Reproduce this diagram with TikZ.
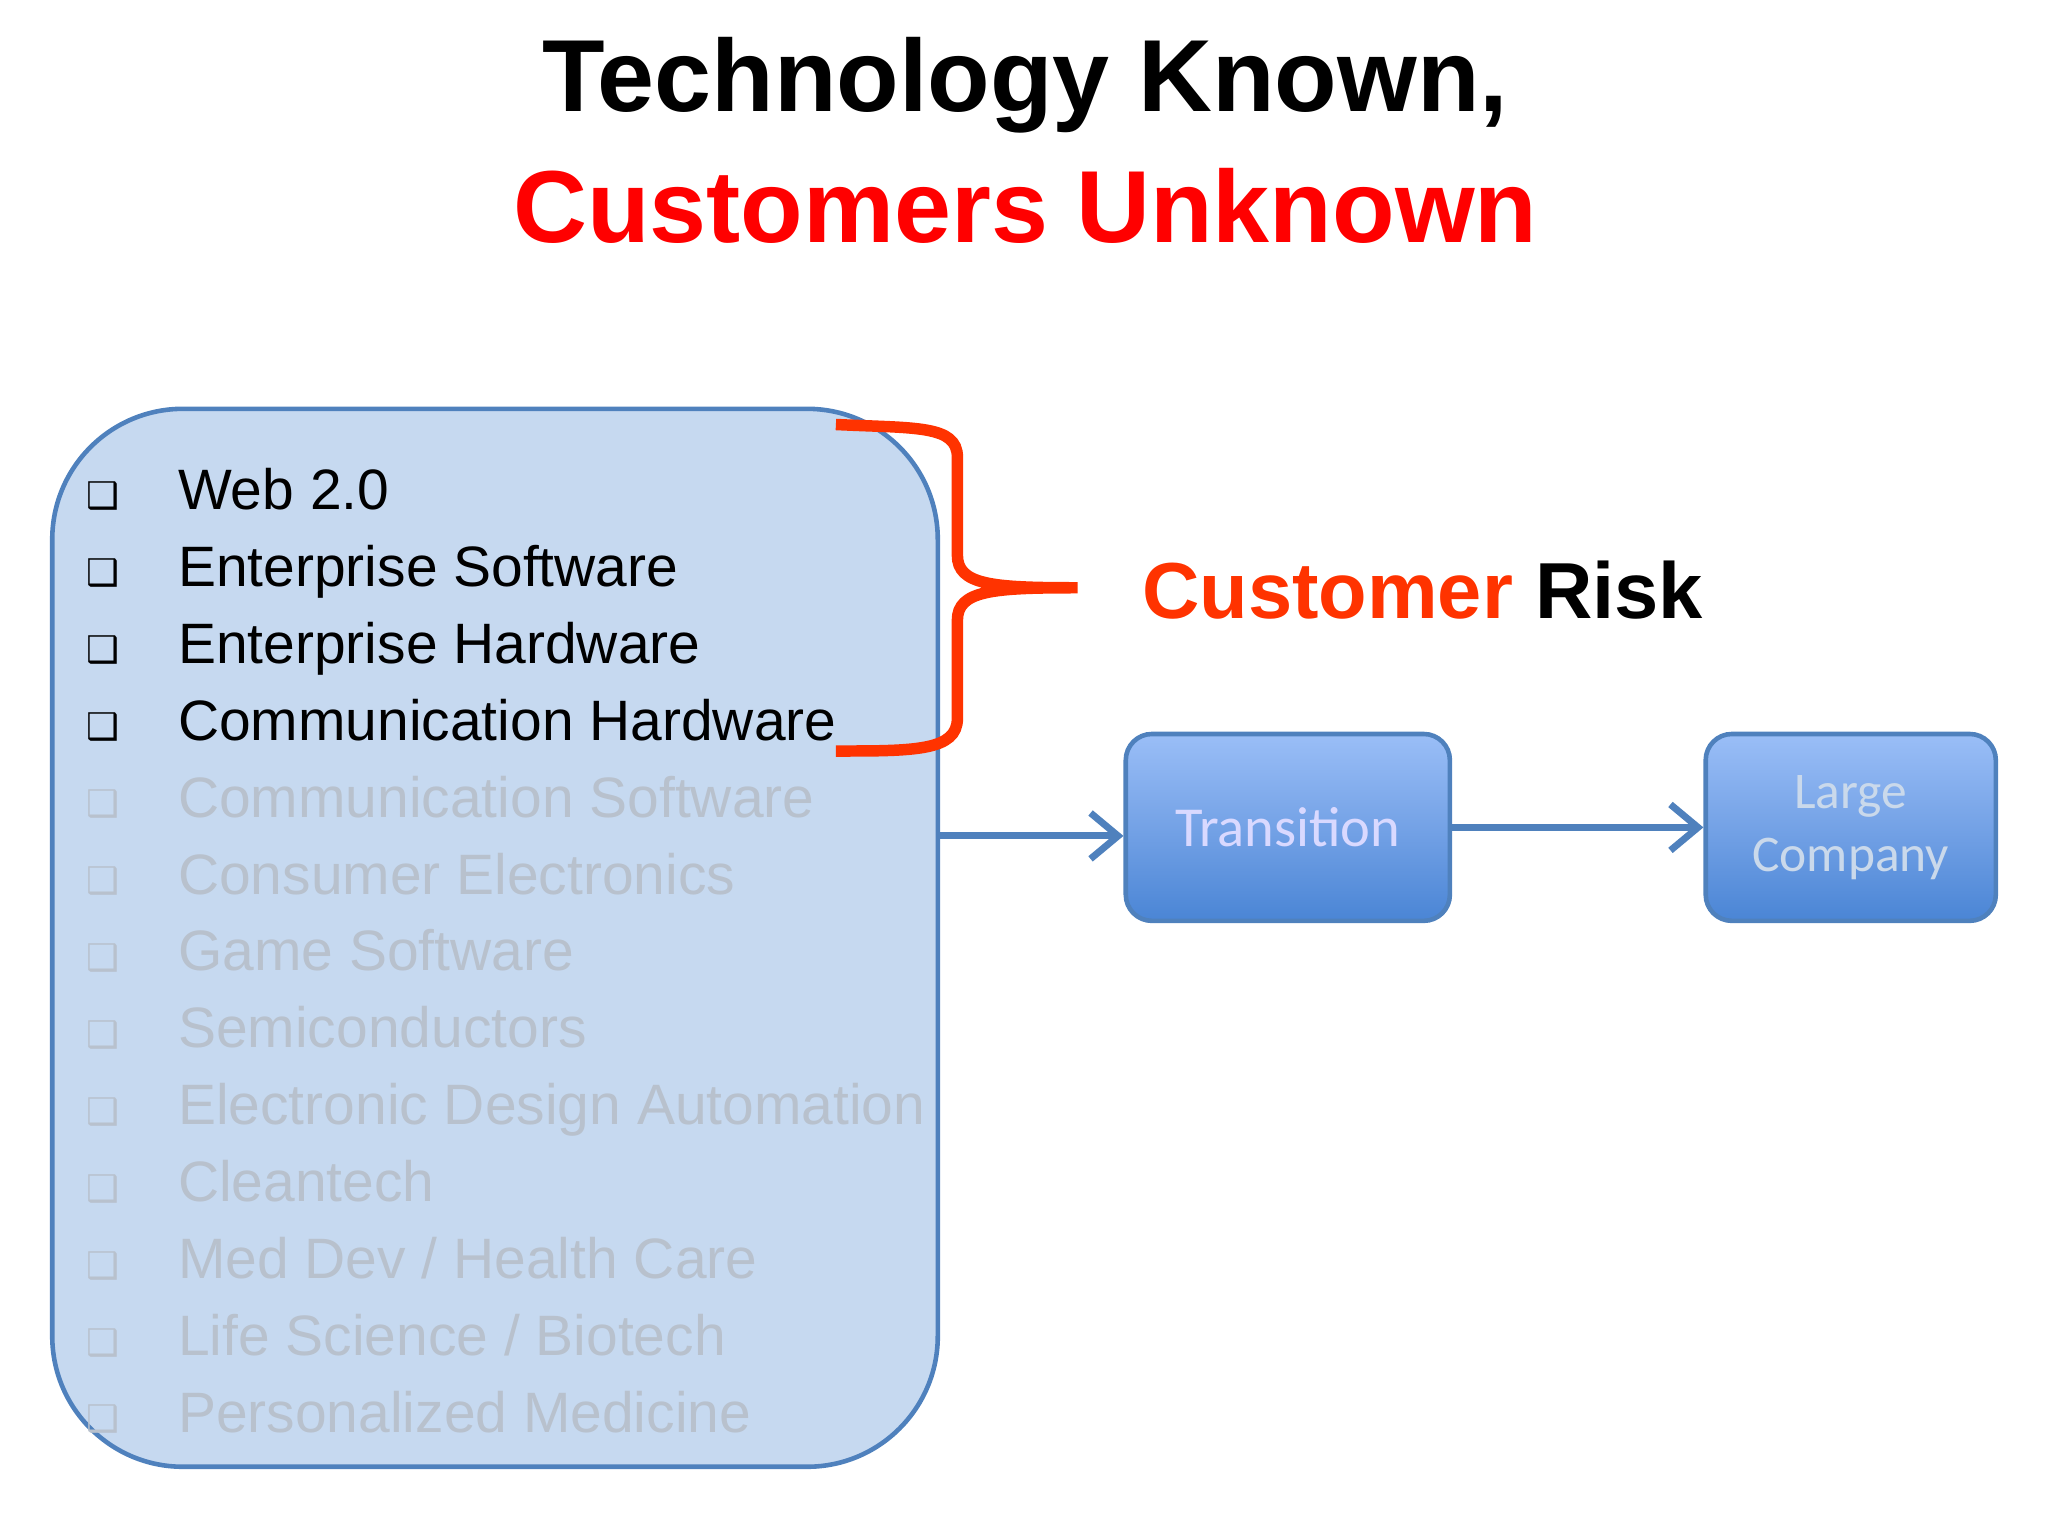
\documentclass[tikz,border=0pt]{standalone}
\usepackage{fontspec}
\usetikzlibrary{arrows.meta}
\setmainfont{Liberation Sans}
\newfontfamily\calfnt{Carlito}
\newfontfamily\djfnt{DejaVu Sans}
\begin{document}
\begin{tikzpicture}[x=0.01cm,y=-0.01cm]
\definecolor{bx}{HTML}{C6D9F0}
\definecolor{bd}{HTML}{4F81BD}
\definecolor{rd}{HTML}{FF3300}
\definecolor{gr}{HTML}{B8C1CD}
\definecolor{gtop}{HTML}{9ABEF7}
\definecolor{gmid}{HTML}{74A2E6}
\definecolor{gbot}{HTML}{4A85D5}
\tikzset{
 item/.style={anchor=base west,font=\fontsize{12.4}{14}\selectfont},
 bul/.style={anchor=center,font=\djfnt\fontsize{8}{9}\selectfont},
 gbox/.style={draw=bd,line width=1pt,rounded corners=0.2cm,top color=gtop,bottom color=gbot,middle color=gmid},
 arr/.style={draw=bd,line width=1.5pt,-{Straight Barb[length=6pt,width=10pt]}}
}
\useasboundingbox (0,0) rectangle (1568,1176);
\node (t1) at (785,65) {\fontsize{22.3}{26}\selectfont\bfseries Technology Known,};
\node (t2) at (785,158) {\fontsize{22.3}{26}\selectfont\bfseries\color{red} Customers Unknown};
\draw[draw=bd,fill=bx,line width=1pt,rounded corners=1cm] (40,313) rectangle (718,1123);
\coordinate (boxr) at (718,640);
\foreach \t [count=\i] in {Web 2.0,Enterprise Software,Enterprise Hardware,Communication Hardware}{
 \node[item] (i\i) at (124,390+58.9*\i-58.9) {\t};
 \node[bul] (b\i) at (79,380+58.9*\i-58.9) {❑};
}
\foreach \t [count=\i from 5] in {Communication Software,Consumer Electronics,Game Software,Semiconductors,Electronic Design Automation,Cleantech,Med Dev / Health Care,Life Science / Biotech,Personalized Medicine}{
 \node[item,text=gr] (i\i) at (124,390+58.9*\i-58.9) {\t};
 \node[bul,text=gr] (b\i) at (79,380+58.9*\i-58.9) {❑};
}
\draw[rd,line width=2.5pt] (640,325) .. controls (700,328) and (733,325) .. (733,350) -- (733,425) .. controls (733,448) and (760,450) .. (825,450) .. controls (760,450) and (733,452) .. (733,475) -- (733,550) .. controls (733,575) and (700,575) .. (640,575);
\node[anchor=west,font=\fontsize{17.3}{20}\selectfont\bfseries] (cr) at (862,452) {\textcolor{rd}{Customer} Risk};
\node[gbox,minimum width=2.48cm,minimum height=1.43cm,font=\calfnt\fontsize{12.3}{14}\selectfont,text=white!85!blue] (tr) at (986,633.5) {Transition};
\node[gbox,minimum width=2.22cm,minimum height=1.43cm,font=\calfnt\fontsize{11.2}{13.6}\selectfont,text=white!70!bd,align=center] (lc) at (1417,633.5) {Large\\Company};
\draw[arr] (boxr) -- (tr.west|-boxr);
\draw[arr] (tr.east) -- (lc.west);
\end{tikzpicture}
\end{document}
